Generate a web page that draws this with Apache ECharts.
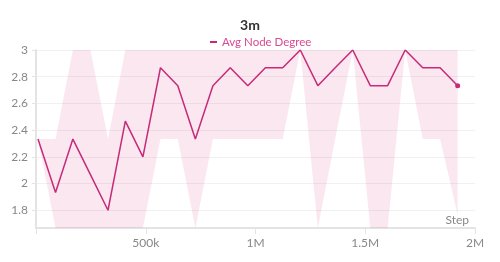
<!DOCTYPE html>
<html>
<head>
<meta charset="utf-8">
<script src="https://cdn.jsdelivr.net/npm/echarts@6/dist/echarts.min.js"></script>
<style>html,body{margin:0;padding:0;background:#fff}#c{width:500px;height:262px}</style>
</head>
<body>
<div id="c"></div>
<script>
var steps = [9000, 89000, 168000, 248000, 328000, 407000, 487000, 567000, 646000, 726000, 806000, 885000, 965000, 1045000, 1124000, 1204000, 1284000, 1363000, 1443000, 1523000, 1602000, 1682000, 1762000, 1841000, 1921000];
var avgDegree = [2.333, 1.933, 2.333, 2.067, 1.8, 2.467, 2.2, 2.867, 2.733, 2.333, 2.733, 2.867, 2.733, 2.867, 2.867, 3, 2.733, 2.867, 3, 2.733, 2.733, 3, 2.867, 2.867, 2.733];
var bandMin = [2.333, 1.667, 1.667, 1.667, 1.667, 1.667, 1.667, 2.333, 2.333, 1.667, 2.333, 2.333, 2.333, 2.333, 2.333, 3, 1.667, 2.333, 3, 1.667, 1.667, 3, 2.333, 2.333, 1.767];
var bandMax = [2.333, 2.333, 3, 3, 2.333, 3, 3, 3, 3, 3, 3, 3, 3, 3, 3, 3, 3, 3, 3, 3, 3, 3, 3, 3, 3];
var xTickLabels = {500000: '500k', 1000000: '1M', 1500000: '1.5M', 2000000: '2M'};
var titleText = '3m';
var seriesName = 'Avg Node Degree';

var lineColor = '#c72a78';
var font = 'Lato';

var bandData = steps.map(function (s, i) { return [s, bandMin[i], bandMax[i]]; });
var mainData = steps.map(function (s, i) {
  if (i === steps.length - 1) return {value: [s, avgDegree[i]], symbol: 'circle', symbolSize: 5};
  return [s, avgDegree[i]];
});
var yMin = Math.min.apply(null, bandMin);

var chart = echarts.init(document.getElementById('c'), null, {renderer: 'canvas'});
chart.setOption({
  animation: false,
  title: {
    text: titleText, left: 'center', top: 13,
    textStyle: {fontFamily: font, fontSize: 14, fontWeight: 'bold', color: '#333'}
  },
  legend: {
    data: [{name: seriesName, icon: 'rect'}],
    top: 31, left: 205, itemWidth: 7, itemHeight: 2, itemGap: 5,
    textStyle: {fontFamily: font, fontSize: 11.5, color: '#d84a92', padding: [0, 0, 0, 0]}
  },
  grid: {left: 36, right: 25, top: 50, bottom: 34, containLabel: false},
  xAxis: {
    type: 'value', min: 0, max: 2000000, interval: 500000,
    name: 'Step', nameLocation: 'end', nameGap: -6,
    nameTextStyle: {fontFamily: font, fontSize: 12, color: '#888', align: 'right', verticalAlign: 'bottom', padding: [0, 0, 2, 0]},
    axisLine: {show: true, lineStyle: {color: '#e4e4e4', width: 2}},
    axisTick: {show: true, length: 6, inside: false, lineStyle: {color: '#e4e4e4', width: 1}},
    axisLabel: {
      fontFamily: font, fontSize: 12, color: '#888', margin: 9,
      formatter: function (v) { return xTickLabels[v] || ''; }
    },
    splitLine: {show: false}
  },
  yAxis: {
    type: 'value', min: yMin, max: 3, splitNumber: 7,
    axisLine: {show: true, lineStyle: {color: '#e4e4e4', width: 2}},
    axisTick: {show: true, length: 4, lineStyle: {color: '#e4e4e4'}},
    axisLabel: {fontFamily: font, fontSize: 12, color: '#888', margin: 8, showMinLabel: false,
      formatter: function (v) { return Math.abs(v - yMin) < 1e-6 ? '' : String(+v.toFixed(2)); }},
    splitLine: {show: true, lineStyle: {color: '#f1f1f1', width: 1}}
  },
  series: [
    {
      name: 'band', type: 'custom', data: bandData, silent: true, z: 1, clip: true,
      encode: {x: 0, y: [1, 2]},
      renderItem: function (params, api) {
        if (params.dataIndex !== 0) return null;
        var upper = [], lower = [];
        for (var i = 0; i < bandData.length; i++) {
          upper.push(api.coord([bandData[i][0], bandData[i][2]]));
          lower.unshift(api.coord([bandData[i][0], bandData[i][1]]));
        }
        return {
          type: 'polygon',
          shape: {points: upper.concat(lower)},
          style: {fill: 'rgba(214, 57, 128, 0.12)', stroke: 'none'}
        };
      }
    },
    {
      name: seriesName, type: 'line', data: mainData, z: 3,
      symbol: 'none', showSymbol: true, symbolSize: 5,
      lineStyle: {color: lineColor, width: 1.5},
      itemStyle: {color: lineColor}
    }
  ]
});
</script>
</body>
</html>
